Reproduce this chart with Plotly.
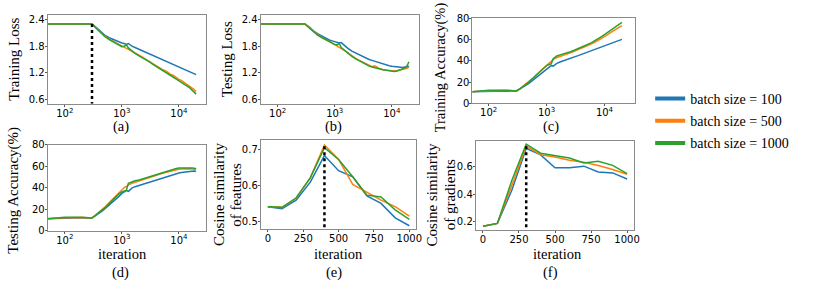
import plotly.graph_objects as go

W, H = 814, 292

# ---------------- data ----------------
iters = [50, 100, 200, 300, 350, 400, 450, 500, 600, 700, 800, 900, 1000, 1100, 1200, 1300,
         1500, 1700, 2000, 2300, 2600, 3000, 3500, 4000, 4500, 5000, 6000, 7000, 8000, 9000,
         10000, 11000, 12500, 14000, 15500, 17000, 18500, 20000]

train_loss_100 = [2.30, 2.30, 2.30, 2.30, 2.23, 2.16, 2.10, 2.05, 1.99, 1.95, 1.92, 1.89, 1.87, 1.86, 1.84, 1.86,
                  1.80, 1.77, 1.73, 1.70, 1.67, 1.63, 1.60, 1.56, 1.53, 1.51, 1.46, 1.42, 1.39, 1.37,
                  1.34, 1.32, 1.29, 1.26, 1.23, 1.21, 1.18, 1.16]
train_loss_500 = [2.30, 2.30, 2.30, 2.30, 2.22, 2.14, 2.08, 2.03, 1.96, 1.91, 1.87, 1.83, 1.80, 1.77, 1.75, 1.73,
                  1.68, 1.64, 1.59, 1.55, 1.51, 1.46, 1.41, 1.36, 1.32, 1.28, 1.24, 1.17, 1.14, 1.09,
                  1.05, 1.03, 0.98, 0.94, 0.90, 0.86, 0.82, 0.78]
train_loss_1000 = [2.30, 2.30, 2.30, 2.30, 2.21, 2.13, 2.07, 2.02, 1.95, 1.90, 1.86, 1.82, 1.79, 1.80, 1.83, 1.76,
                   1.69, 1.64, 1.58, 1.54, 1.50, 1.45, 1.39, 1.34, 1.30, 1.26, 1.20, 1.14, 1.10, 1.06,
                   1.02, 0.99, 0.95, 0.90, 0.86, 0.81, 0.77, 0.72]

test_loss_100 = [2.30, 2.30, 2.30, 2.30, 2.24, 2.17, 2.12, 2.08, 2.02, 1.97, 1.94, 1.92, 1.90, 1.88, 1.87, 1.88,
                 1.80, 1.75, 1.69, 1.65, 1.61, 1.58, 1.54, 1.50, 1.48, 1.46, 1.43, 1.40, 1.38, 1.36,
                 1.35, 1.34, 1.33, 1.32, 1.32, 1.33, 1.33, 1.35]
test_loss_500 = [2.30, 2.30, 2.30, 2.30, 2.23, 2.16, 2.11, 2.06, 2.00, 1.95, 1.91, 1.87, 1.84, 1.81, 1.79, 1.76,
                 1.70, 1.65, 1.58, 1.53, 1.49, 1.45, 1.41, 1.37, 1.34, 1.36, 1.30, 1.27, 1.26, 1.25,
                 1.24, 1.24, 1.25, 1.26, 1.27, 1.29, 1.30, 1.33]
test_loss_1000 = [2.30, 2.30, 2.30, 2.30, 2.22, 2.15, 2.10, 2.05, 1.99, 1.94, 1.90, 1.86, 1.84, 1.83, 1.86, 1.77,
                  1.70, 1.64, 1.57, 1.52, 1.48, 1.44, 1.39, 1.35, 1.33, 1.31, 1.29, 1.27, 1.26, 1.24,
                  1.23, 1.23, 1.24, 1.26, 1.28, 1.31, 1.36, 1.45]

train_acc_100 = [11.0, 11.5, 11.6, 11.5, 13.5, 15.5, 17.5, 19.0, 22.5, 25.5, 28.0, 30.5, 32.5, 34.0, 35.5, 35.0,
                 37.5, 38.8, 40.0, 41.2, 42.3, 43.5, 44.8, 46.0, 47.0, 48.0, 49.6, 51.0, 52.3, 53.4,
                 54.3, 55.0, 56.2, 57.2, 58.0, 58.8, 59.5, 60.0]
train_acc_500 = [11.0, 12.0, 12.2, 11.8, 14.0, 16.5, 18.5, 20.5, 24.5, 28.0, 31.0, 33.5, 36.0, 38.0, 39.5, 41.0,
                 43.0, 44.2, 45.5, 46.5, 47.5, 48.8, 50.2, 51.5, 52.5, 53.8, 55.8, 57.8, 59.5, 61.0,
                 62.5, 64.0, 66.0, 67.8, 69.3, 70.8, 72.0, 73.0]
train_acc_1000 = [11.0, 12.5, 12.5, 11.8, 14.0, 16.3, 18.3, 20.3, 24.3, 27.8, 30.8, 33.3, 35.5, 36.5, 37.0, 42.0,
                  44.5, 45.5, 46.5, 47.5, 48.5, 49.8, 51.2, 52.5, 53.5, 55.0, 57.0, 59.0, 61.0, 62.8,
                  64.5, 66.0, 68.2, 70.2, 72.0, 73.5, 75.0, 76.0]

test_acc_100 = [11.0, 11.8, 11.9, 11.6, 13.8, 16.0, 18.0, 20.0, 23.5, 26.8, 29.5, 32.0, 34.5, 36.0, 37.2, 36.5,
                39.5, 40.8, 42.0, 43.0, 44.0, 45.0, 46.2, 47.3, 48.2, 49.0, 50.2, 51.2, 52.0, 52.8,
                53.5, 54.0, 54.5, 54.8, 55.0, 55.2, 55.3, 55.0]
test_acc_500 = [11.0, 12.0, 12.1, 11.7, 14.5, 17.0, 19.3, 21.5, 25.8, 29.5, 32.5, 35.5, 38.0, 40.0, 41.0, 42.5,
                44.0, 45.0, 46.0, 47.0, 48.0, 49.2, 50.5, 51.5, 52.3, 53.0, 54.2, 55.2, 56.0, 56.6,
                57.0, 57.2, 57.5, 57.5, 57.6, 57.3, 57.2, 57.0]
test_acc_1000 = [11.0, 12.3, 12.3, 11.7, 14.3, 16.8, 19.0, 21.0, 25.3, 29.0, 31.8, 34.3, 36.0, 37.0, 37.5, 44.0,
                 45.5, 46.3, 47.0, 48.0, 49.0, 50.2, 51.5, 52.5, 53.3, 54.2, 55.5, 56.5, 57.2, 57.8,
                 58.2, 58.3, 58.5, 58.4, 58.3, 58.2, 58.0, 57.5]

cos_iters = [0, 100, 200, 300, 400, 500, 600, 700, 800, 900, 1000]
feat_100 = [0.542, 0.536, 0.560, 0.610, 0.684, 0.642, 0.625, 0.572, 0.551, 0.511, 0.489]
feat_500 = [0.542, 0.540, 0.566, 0.622, 0.713, 0.673, 0.604, 0.582, 0.560, 0.542, 0.516]
feat_1000 = [0.542, 0.540, 0.566, 0.622, 0.706, 0.673, 0.625, 0.574, 0.569, 0.533, 0.507]

grad_100 = [0.165, 0.186, 0.428, 0.734, 0.687, 0.593, 0.593, 0.604, 0.562, 0.555, 0.510]
grad_500 = [0.165, 0.186, 0.463, 0.750, 0.687, 0.671, 0.647, 0.633, 0.609, 0.580, 0.545]
grad_1000 = [0.165, 0.186, 0.499, 0.765, 0.699, 0.680, 0.664, 0.628, 0.640, 0.610, 0.550]

vline_a_x, vline_a_y = [300, 300], [2.30, 0.50]
vline_e_x, vline_e_y = [400, 400], [0.710, 0.48]
vline_f_x, vline_f_y = [300, 300], [0.750, 0.136]

series_names = ["batch size = 100", "batch size = 500", "batch size = 1000"]
colors = ["#1f77b4", "#ff7f0e", "#2ca02c"]

panel_titles = ["(a)", "(b)", "(c)", "(d)", "(e)", "(f)"]

# ---------------- layout helpers ----------------
def px_x(p):
    return p / W

def px_y(p):
    return 1 - p / H

SERIF = "Liberation Serif, Times New Roman, serif"
SANS = "DejaVu Sans, sans-serif"

fig = go.Figure()

panels = [
    (iters, [train_loss_100, train_loss_500, train_loss_1000]),
    (iters, [test_loss_100, test_loss_500, test_loss_1000]),
    (iters, [train_acc_100, train_acc_500, train_acc_1000]),
    (iters, [test_acc_100, test_acc_500, test_acc_1000]),
    (cos_iters, [feat_100, feat_500, feat_1000]),
    (cos_iters, [grad_100, grad_500, grad_1000]),
]

for i, (xs, ys_list) in enumerate(panels):
    ax = "" if i == 0 else str(i + 1)
    for ys, c, n in zip(ys_list, colors, series_names):
        fig.add_trace(go.Scatter(x=xs, y=ys, mode="lines", line=dict(color=c, width=1.5),
                                 name=n, showlegend=False, xaxis="x" + ax, yaxis="y" + ax,
                                 hoverinfo="skip"))

for vx, vy, ax in [(vline_a_x, vline_a_y, ""), (vline_e_x, vline_e_y, "5"), (vline_f_x, vline_f_y, "6")]:
    fig.add_trace(go.Scatter(x=vx, y=vy, mode="lines", line=dict(color="black", width=2.5, dash="dot"),
                             showlegend=False, xaxis="x" + ax, yaxis="y" + ax, hoverinfo="skip"))

# legend entries (thick handles)
for i, (c, n) in enumerate(zip(colors, series_names)):
    fig.add_trace(go.Scatter(x=[None], y=[None], mode="lines", line=dict(color=c, width=4),
                             name=n, legendgroup=str(i), showlegend=True))

# panel boxes in pixels: (left, right, top, bottom)
boxes = [
    (48, 207.3, 9, 101.7),
    (262.5, 422.3, 9, 101.7),
    (476, 639.3, 12.5, 101.3),
    (48, 207.3, 144, 233.3),
    (262.7, 419.5, 139.3, 231.7),
    (479.3, 639, 140, 233),
]

log_ticks = dict(tickvals=[100, 1000, 10000],
                 ticktext=["10<sup>2</sup>", "10<sup>3</sup>", "10<sup>4</sup>"])
xcfg = [
    dict(type="log", range=[1.70, 4.47], **log_ticks),
    dict(type="log", range=[1.70, 4.48], **log_ticks),
    dict(type="log", range=[1.72, 4.52], **log_ticks),
    dict(type="log", range=[1.70, 4.47], **log_ticks),
    dict(range=[-50, 1050], tickvals=[0, 250, 500, 750, 1000]),
    dict(range=[-50, 1050], tickvals=[0, 250, 500, 750, 1000]),
]
ycfg = [
    dict(range=[0.5, 2.51], tickvals=[0.6, 1.2, 1.8, 2.4], ticktext=["0.6", "1.2", "1.8", "2.4"]),
    dict(range=[0.5, 2.51], tickvals=[0.6, 1.2, 1.8, 2.4], ticktext=["0.6", "1.2", "1.8", "2.4"]),
    dict(range=[0, 80], tickvals=[0, 20, 40, 60, 80]),
    dict(range=[0, 80], tickvals=[0, 20, 40, 60, 80]),
    dict(range=[0.48, 0.727], tickvals=[0.5, 0.6, 0.7]),
    dict(range=[0.136, 0.79], tickvals=[0.2, 0.4, 0.6]),
]

common = dict(showline=True, mirror=True, linecolor="#8a8a8a", linewidth=1, showgrid=False,
              zeroline=False, ticks="outside", ticklen=2, tickwidth=1, tickcolor="#555555",
              ticklabelstandoff=-2,
              tickfont=dict(family=SANS, size=10, color="black"))

layout = {}
for i, ((l, r, t, b), xc, yc) in enumerate(zip(boxes, xcfg, ycfg)):
    ax = "" if i == 0 else str(i + 1)
    layout["xaxis" + ax] = dict(domain=[px_x(l), px_x(r)], anchor="y" + ax, **xc, **common)
    layout["yaxis" + ax] = dict(domain=[px_y(b), px_y(t)], anchor="x" + ax, **yc, **common)

annotations = []

def text(x, y, s, angle=0, size=14.5):
    annotations.append(dict(x=px_x(x), y=px_y(y), xref="paper", yref="paper", text=s,
                            showarrow=False, textangle=angle, xanchor="center", yanchor="middle",
                            font=dict(family=SERIF, size=size, color="black")))

text(14, 55, "Training Loss", -90, 15)
text(229, 55, "Testing Loss", -90, 15)
text(444, 64, "Training Accuracy(%)", -90, 14.5)
text(14, 191, "Testing Accuracy(%)", -90, 15)
text(220, 196, "Cosine similarity", -90, 15)
text(237, 196, "of features", -90, 15)
text(435, 196, "Cosine similarity", -90, 15)
text(453, 196, "of gradients", -90, 15)
text(123, 258, "iteration")
text(341, 258, "iteration")
text(562, 258, "iteration")
for (x, y), s in zip([(122, 125), (336, 125), (555, 125), (121, 277), (336, 277), (555, 277)], panel_titles):
    text(x, y, s)

fig.update_layout(
    width=W, height=H, margin=dict(l=0, r=0, t=0, b=0),
    paper_bgcolor="white", plot_bgcolor="white",
    annotations=annotations,
    showlegend=True,
    legend=dict(x=px_x(655), y=px_y(80), xanchor="left", yanchor="top",
                font=dict(family=SERIF, size=14, color="black"),
                bgcolor="rgba(0,0,0,0)", borderwidth=0, tracegroupgap=1,
                itemclick=False, itemdoubleclick=False),
    **layout,
)

fig.write_html("out.html", config={"displayModeBar": False, "staticPlot": True},
               post_script="document.body.style.margin='0';document.body.style.overflow='hidden';")
